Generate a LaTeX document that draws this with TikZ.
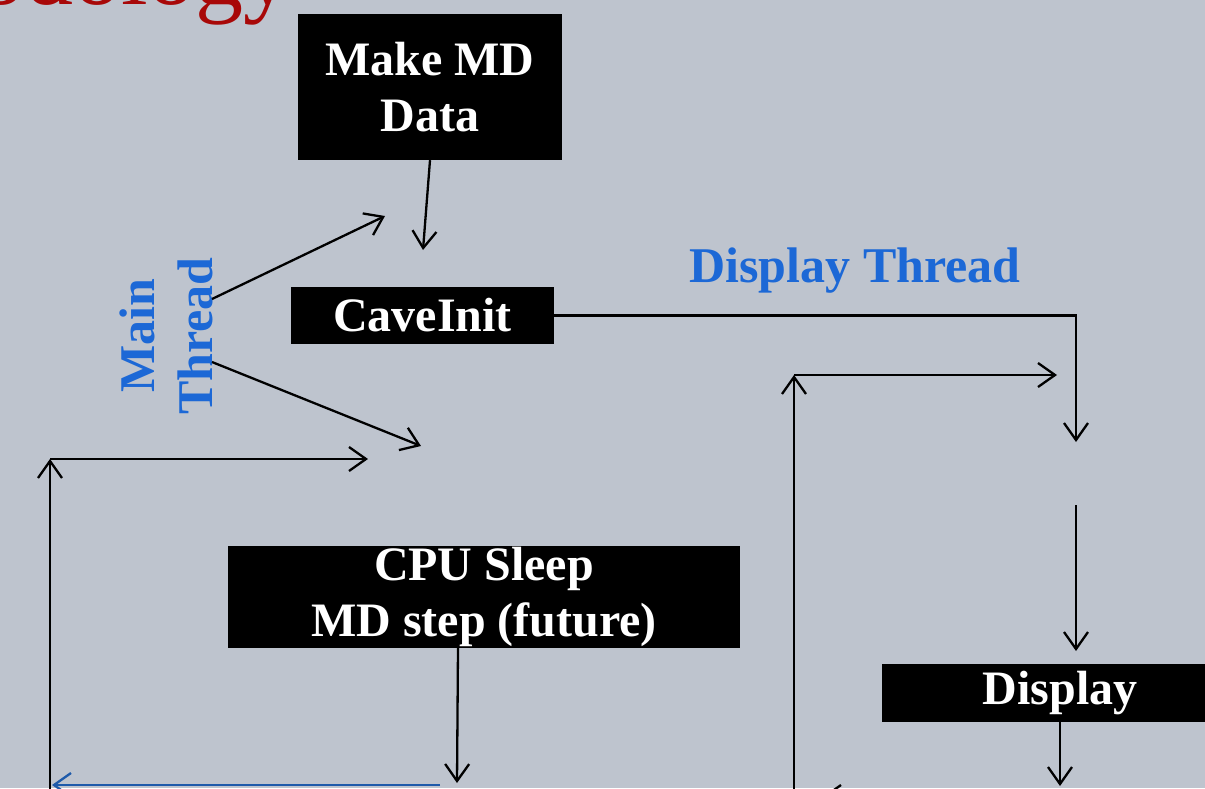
\documentclass[tikz,border=0pt]{standalone}
\usepackage{fontspec}
\setmainfont{Liberation Serif}
\usetikzlibrary{arrows.meta}
\definecolor{slide}{RGB}{190,196,206}
\definecolor{titlered}{RGB}{168,8,8}
\definecolor{threadblue}{RGB}{28,104,214}
\definecolor{loopblue}{RGB}{30,90,170}
\tikzset{
  box/.style={fill=black, text=white, font=\bfseries\fontsize{48}{56}\selectfont,
    inner sep=0pt, align=center},
  threadlabel/.style={text=threadblue, font=\bfseries\fontsize{50}{58}\selectfont,
    inner sep=0pt, align=center},
  flow/.style={draw=black, line width=2.3pt,
    -{Straight Barb[length=17pt,width=24pt]}},
}
\begin{document}
\begin{tikzpicture}[x=1pt,y=-1pt]
  \useasboundingbox (0,0) rectangle (1205,788);
  \clip (0,0) rectangle (1205,788);
  \fill[slide] (0,0) rectangle (1205,788);

  % slide title, mostly above the visible area
  \node[anchor=base east, text=titlered, inner sep=0pt,
        font=\fontsize{96}{100}\selectfont] (title) at (292,4) {Methodology};

  % process boxes
  \node[box, minimum width=264pt, minimum height=146pt] (mkdata) at (430,87)
    {Make MD\\Data};
  \node[box, minimum width=263pt, minimum height=57pt] (cave) at (422.5,315.5)
    {CaveInit};
  \node[box, minimum width=512pt, minimum height=102pt] (cpu) at (484,597)
    {CPU Sleep\\MD step (future)};
  \node[box, minimum width=356pt, minimum height=58pt] (disp) at (1060,693)
    {Display};

  % thread labels
  \node[threadlabel, rotate=90] (mainth) at (166,336) {Main\\Thread};
  \node[threadlabel] (dispth) at (855,271) {Display Thread};

  % connector end points
  \coordinate (mkend) at (423,250);
  \coordinate (mtup) at (212,299);
  \coordinate (mtdn) at (212,362);
  \coordinate (upend) at (385,216);
  \coordinate (dnend) at (421,446);
  \coordinate (loopbot) at (50,792);
  \coordinate (loopcorner) at (50,459);
  \coordinate (loopend) at (368,459);
  \coordinate (cpuout) at (458,648);
  \coordinate (cpuend) at (457,783);
  \coordinate (backstart) at (440,785);
  \coordinate (backend) at (52,785);
  \coordinate (caveend) at (1076,442);
  \coordinate (midstart) at (1076,505);
  \coordinate (midend) at (1076,651);
  \coordinate (dispout) at (1060,722);
  \coordinate (dispend) at (1060,786);
  \coordinate (rbot) at (794,792);
  \coordinate (rcorner) at (794,375);
  \coordinate (rend) at (1057,375);
  \coordinate (retstart) at (900,797);
  \coordinate (retend) at (822,797);

  % main thread
  \draw[flow] (mkdata.south) -- (mkend);
  \draw[flow] (mtup) -- (upend);
  \draw[flow] (mtdn) -- (dnend);
  \draw[flow] (loopbot) -- (loopcorner);
  \draw[flow] (loopcorner) -- (loopend);
  \draw[flow] (cpuout) -- (cpuend);
  \draw[flow, draw=loopblue] (backstart) -- (backend);

  % display thread
  \draw[flow] (cave.east) -| (caveend);
  \draw[flow] (midstart) -- (midend);
  \draw[flow] (dispout) -- (dispend);
  \draw[flow] (rbot) -- (rcorner);
  \draw[flow] (rcorner) -- (rend);
  \draw[flow] (retstart) -- (retend);
\end{tikzpicture}
\end{document}
